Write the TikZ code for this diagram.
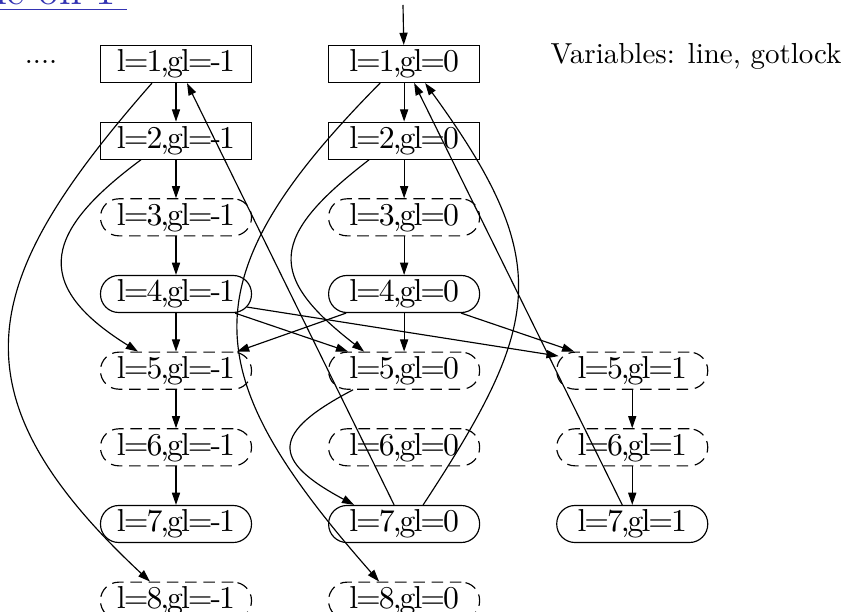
\documentclass[tikz,border=0pt]{standalone}
\usepackage{fontspec}
\usepackage{tikz}
\usetikzlibrary{arrows.meta,positioning}
\definecolor{TitleBlue}{RGB}{51,51,179}
\newfontfamily\cfgfam{lmroman10-regular.otf}[LetterSpace=-6.3]
\newcommand{\cfgfont}{\fontsize{10.95}{13}\cfgfam}
\tikzset{
  st/.style    = {draw, minimum width=52.1pt, minimum height=12.77pt,
                  inner sep=1pt, font=\cfgfont},
  sharp/.style = {st},
  pill/.style  = {st, rounded corners=6.3pt},
  ghost/.style = {pill, dash pattern=on 4pt off 2.3pt},
  tr/.style    = {-{Triangle[length=4.2pt,width=2.8pt]}, line width=0.4pt},
  note/.style  = {font=\normalsize, inner sep=0pt},
}

\begin{document}
\begin{tikzpicture}[x=0.345pt, y=-0.345pt, node distance=13.28pt and 26.2pt]

  \useasboundingbox (0,0) rectangle (849,612);
  \clip (0,0) rectangle (849,612);

  \node[note, font=\fontsize{14.4}{17}\selectfont, text=TitleBlue, anchor=base east]
    (title) at (128,5) {\underline{ne on 1\hspace{4pt}}};

  % gl=-1
  \node[sharp] (m1) at (176,64) {l=1,gl=-1};
  \node[sharp, below=of m1] (m2) {l=2,gl=-1};
  \node[ghost, below=of m2] (m3) {l=3,gl=-1};
  \node[pill,  below=of m3] (m4) {l=4,gl=-1};
  \node[ghost, below=of m4] (m5) {l=5,gl=-1};
  \node[ghost, below=of m5] (m6) {l=6,gl=-1};
  \node[pill,  below=of m6] (m7) {l=7,gl=-1};
  \node[ghost, below=of m7] (m8) {l=8,gl=-1};

  % gl=0
  \node[sharp, right=of m1] (z1) {l=1,gl=0};
  \node[sharp, below=of z1] (z2) {l=2,gl=0};
  \node[ghost, below=of z2] (z3) {l=3,gl=0};
  \node[pill,  below=of z3] (z4) {l=4,gl=0};
  \node[ghost, below=of z4] (z5) {l=5,gl=0};
  \node[ghost, below=of z5] (z6) {l=6,gl=0};
  \node[pill,  below=of z6] (z7) {l=7,gl=0};
  \node[ghost, below=of z7] (z8) {l=8,gl=0};

  % gl=1
  \node[ghost, right=of z5] (p5) {l=5,gl=1};
  \node[ghost, below=of p5] (p6) {l=6,gl=1};
  \node[pill,  below=of p6] (p7) {l=7,gl=1};

  \node[note, anchor=base] (dots) at (41,64) {....};
  \node[note, anchor=base west] (vars) at (550,63.5) {Variables: line, gotlock};

  \coordinate (entry) at (403,5);
  \draw[tr] (entry) -- (z1);

  \foreach \a/\b in {m1/m2, m2/m3, m3/m4, m4/m5, m5/m6, m6/m7,
                     z1/z2, z2/z3, z3/z4, z4/z5, p5/p6, p6/p7}
    \draw[tr] (\a) -- (\b);

  % curved edges
  \draw[tr] ([shift={(-24,0)}]m1.south) .. controls +(-171,195) and +(-205,-191) .. ([shift={(-26,0)}]m8.north);
  \draw[tr] ([shift={(-35,0)}]m2.south) .. controls +(-93,69) and +(-111,-69) .. ([shift={(-38,0)}]m5.north);
  \draw[tr] ([shift={(-24,0)}]z1.south) .. controls +(-196,198) and +(-182,-207) .. ([shift={(-25,0)}]z8.north);
  \draw[tr] ([shift={(-35,0)}]z2.south) .. controls +(-100,77) and +(-98,-76) .. ([shift={(-40,0)}]z5.north);
  \draw[tr] ([shift={(-51,0)}]z5.south) .. controls +(-82,43) and +(-84,-45) .. ([shift={(-50,0)}]z7.north);
  \draw[tr] ([shift={(19,0)}]z7.north) .. controls +(118,-180) and +(131,180) .. ([shift={(21,0)}]z1.south);

  % straight edges
  \draw[tr] ([shift={(-10,0)}]z7.north) -- ([shift={(11,0)}]m1.south);
  \draw[tr] ([shift={(-10,0)}]p7.north) -- ([shift={(10,0)}]z1.south);
  \draw[tr] ([shift={(59,0)}]m4.south) -- ([shift={(-56,0)}]z5.north);
  \draw[tr] ([shift={(-5,-6)}]m4.south east) -- ([shift={(2.5,4.5)}]p5.north west);
  \draw[tr] ([shift={(-58,0)}]z4.south) -- ([shift={(61,0)}]m5.north);
  \draw[tr] ([shift={(57,0)}]z4.south) -- ([shift={(-58,0)}]p5.north);

\end{tikzpicture}
\end{document}
